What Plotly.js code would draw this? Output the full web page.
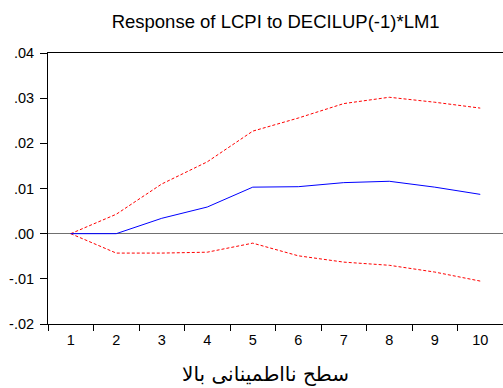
<!DOCTYPE html>
<html><head><meta charset="utf-8">
<script src="https://cdn.plot.ly/plotly-3.0.1.min.js"></script>
<style>html,body{margin:0;padding:0;background:#fff;}#c{width:503px;height:388px;}</style>
</head><body><div id="c"></div>
<script>
const periods = ['1','2','3','4','5','6','7','8','9','10'];
const response = [0, 0, 0.0034, 0.0059, 0.0103, 0.0104, 0.0113, 0.0116, 0.0103, 0.0087];
const upperBand = [0, 0.0043, 0.0110, 0.0159, 0.0227, 0.0256, 0.0288, 0.0302, 0.0291, 0.0278];
const lowerBand = [0, -0.0043, -0.0043, -0.0041, -0.0021, -0.0049, -0.0063, -0.0070, -0.0085, -0.0105];
const yTickVals = [-0.02, -0.01, 0, 0.01, 0.02, 0.03, 0.04];
const yTickText = ['-.02', '-.01', '.00', '.01', '.02', '.03', '.04'];
const titleText = 'Response of LCPI to DECILUP(-1)*LM1';
const xTitleText = 'سطح نااطمينانی بالا';

const redLine = {color: '#ff0000', width: 1, dash: '3px,2px'};
const traces = [
  {x: periods, y: upperBand, type: 'scatter', mode: 'lines', line: redLine, hoverinfo: 'skip'},
  {x: periods, y: lowerBand, type: 'scatter', mode: 'lines', line: redLine, hoverinfo: 'skip'},
  {x: periods, y: response, type: 'scatter', mode: 'lines', line: {color: '#0000ff', width: 1}, hoverinfo: 'skip'}
];
const layout = {
  width: 503, height: 388,
  margin: {l: 48, r: 0, t: 53, b: 64},
  paper_bgcolor: '#fff', plot_bgcolor: '#fff',
  showlegend: false,
  font: {family: 'Liberation Sans, Arial, sans-serif', size: 14, color: '#000'},
  title: {text: titleText, x: 0.548, xanchor: 'center', y: 0.944, yanchor: 'middle',
          font: {family: 'Liberation Sans, Arial, sans-serif', size: 18.5, color: '#000'}},
  xaxis: {type: 'category', tickson: 'boundaries', range: [-0.5, 9.5],
          showgrid: false, zeroline: false, showline: true, linecolor: '#000', linewidth: 1,
          mirror: true, ticks: 'outside', ticklen: 6, tickcolor: '#000', tickwidth: 1,
          ticklabelstandoff: 3,
          tickfont: {size: 14.5}, fixedrange: true},
  yaxis: {range: [-0.02, 0.04], tickmode: 'array', tickvals: yTickVals, ticktext: yTickText,
          showgrid: false, zeroline: true, zerolinecolor: '#707070', zerolinewidth: 1,
          showline: true, linecolor: '#000', linewidth: 1,
          ticks: 'outside', ticklen: 7, tickcolor: '#000', tickwidth: 1,
          ticklabelstandoff: 3,
          tickfont: {size: 14.5}, fixedrange: true},
  annotations: [{text: xTitleText, xref: 'paper', yref: 'paper', x: 0.479, y: -0.185,
                 xanchor: 'center', yanchor: 'middle', showarrow: false,
                 font: {family: 'DejaVu Sans, Noto Sans, sans-serif', size: 20, color: '#000'}}]
};
Plotly.newPlot('c', traces, layout, {displayModeBar: false, staticPlot: true});
</script>
</body></html>
